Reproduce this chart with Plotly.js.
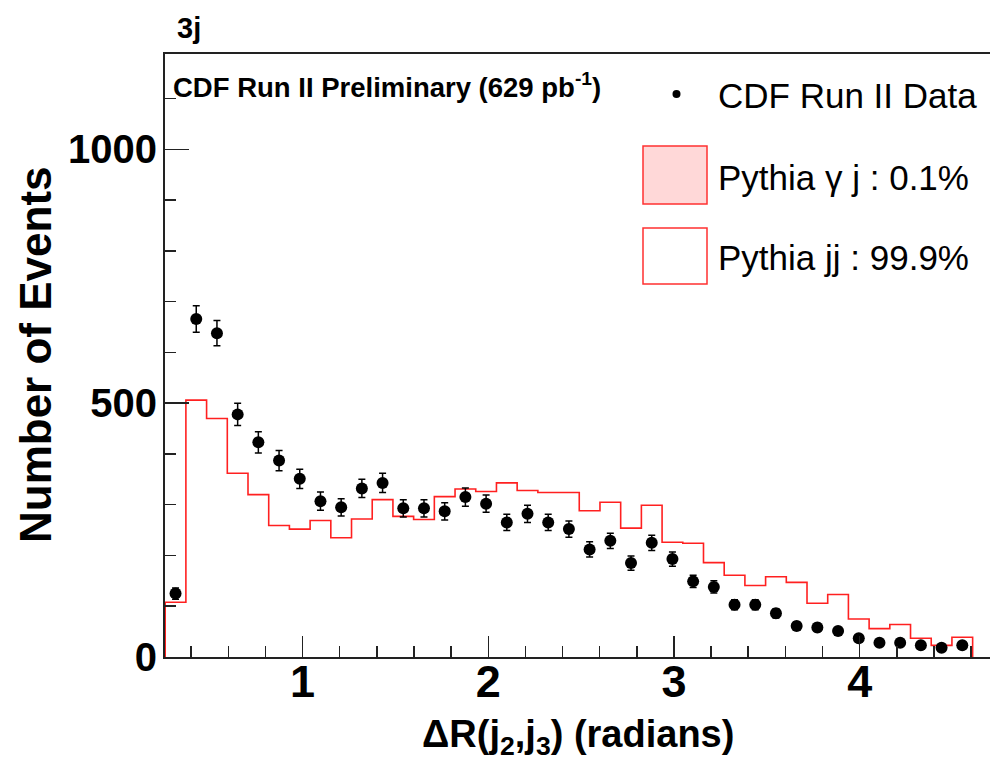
<!DOCTYPE html>
<html>
<head>
<meta charset="utf-8">
<script src="https://cdn.plot.ly/plotly-3.0.1.min.js"></script>
<style>html,body{margin:0;padding:0;background:#fff;}#chart{width:990px;height:760px;}</style>
</head>
<body>
<div id="chart"></div>
<script>
// ---- histogram binning (39 bins) ----
const binLo = 0.26;
const binWidth = 0.1115;

// CDF Run II data (counts per bin) and error bars
const dataCounts = [125, 666, 638, 478, 423, 387, 351, 307, 295, 332,
                    343, 293, 293, 287, 315, 302, 265, 282, 265, 252,
                    212, 229, 185, 225, 193, 149, 138, 103, 103, 86,
                    61, 58, 51, 37, 28, 28, 23, 18, 23];
const dataErrors = [11, 26, 25, 22, 21, 20, 19, 18, 17, 18,
                    19, 17, 17, 17, 18, 17, 16, 17, 16, 16,
                    15, 15, 14, 15, 14, 12, 12, 10, 10, 9,
                    8, 8, 7, 6, 5, 5, 5, 4, 5];

// Pythia jj (99.9%)
const pythiaJJ = [108, 506, 470, 362, 320, 259, 252, 269, 235, 272,
                  310, 277, 271, 316, 331, 326, 343, 328, 324, 324,
                  288, 305, 254, 299, 226, 224, 186, 161, 141, 158,
                  147, 106, 123, 75, 56, 64, 37, 23, 39];

// Pythia gamma-j (0.1%) - essentially invisible
const pythiaGJ = [0, 1, 0, 0, 0, 0, 0, 0, 0, 0,
                  0, 0, 0, 0, 0, 0, 0, 1, 0, 0,
                  0, 0, 0, 0, 1, 0, 0, 0, 0, 0,
                  0, 0, 0, 0, 0, 0, 0, 0, 0];

const yTickVals = [0, 500, 1000];
const xTickVals = [1, 2, 3, 4];

const legendLabels = ['CDF Run II Data', 'Pythia \u03b3 j : 0.1%', 'Pythia jj : 99.9%'];
const panelLabel = '3j';
const expLabel = 'CDF Run II Preliminary (629 pb<sup>-1</sup>)';
const xTitle = '\u0394R(j<sub>2</sub>,j<sub>3</sub>) (radians)';
const yTitle = 'Number of Events';

// ---- helpers ----
const centers = dataCounts.map((_, i) => binLo + (i + 0.5) * binWidth);
function stepLine(vals) {
  const xs = [binLo], ys = [0];
  vals.forEach((v, i) => {
    xs.push(binLo + i * binWidth, binLo + (i + 1) * binWidth);
    ys.push(v, v);
  });
  xs.push(binLo + vals.length * binWidth);
  ys.push(0);
  return {xs, ys};
}

const W = 990, H = 760;
const M = {l: 165, r: 0, t: 54, b: 103};
const PW = W - M.l - M.r, PH = H - M.t - M.b;
const px = X => (X - M.l) / PW;
const py = Y => (H - M.b - Y) / PH;

const FONT = 'Liberation Sans, Arial, Helvetica, sans-serif';

const jjStep = stepLine(pythiaJJ);
const gjStep = stepLine(pythiaGJ);

const traces = [
  {
    x: gjStep.xs, y: gjStep.ys, type: 'scatter', mode: 'lines',
    fill: 'tozeroy', fillcolor: '#ffd6d6',
    line: {width: 0, color: '#ffd6d6'}, hoverinfo: 'skip', showlegend: false
  },
  {
    x: jjStep.xs, y: jjStep.ys, type: 'scatter', mode: 'lines',
    line: {color: '#ff2020', width: 1.6}, showlegend: false
  },
  {
    x: centers, y: dataCounts, type: 'scatter', mode: 'markers',
    marker: {color: '#000', size: 12, symbol: 'circle'},
    error_y: {type: 'data', array: dataErrors, visible: true, color: '#000', thickness: 1.5, width: 3.5},
    showlegend: false
  }
];

const shapes = [
  // legend boxes
  {type: 'rect', xref: 'paper', yref: 'paper', x0: px(643), x1: px(707), y0: py(204), y1: py(146),
   line: {color: '#ff3030', width: 1.5}, fillcolor: '#ffd8d8'},
  {type: 'rect', xref: 'paper', yref: 'paper', x0: px(643), x1: px(707), y0: py(284), y1: py(228),
   line: {color: '#ff3030', width: 1.5}, fillcolor: '#ffffff'},
  // legend dot
  {type: 'circle', xref: 'paper', yref: 'paper', x0: px(672.5), x1: px(680.5), y0: py(98), y1: py(90),
   line: {color: '#000', width: 0}, fillcolor: '#000'}
];

const annotations = [
  {text: panelLabel, xref: 'paper', yref: 'paper', x: px(175), y: py(28), xanchor: 'left', yanchor: 'middle',
   showarrow: false, font: {family: FONT, size: 29, weight: 'bold', color: '#000'}},
  {text: expLabel, xref: 'paper', yref: 'paper', x: px(171), y: py(85), xanchor: 'left', yanchor: 'middle',
   showarrow: false, font: {family: FONT, size: 27.5, weight: 'bold', color: '#000'}},
  {text: legendLabels[0], xref: 'paper', yref: 'paper', x: px(716), y: py(95), xanchor: 'left', yanchor: 'middle',
   showarrow: false, font: {family: FONT, size: 35, color: '#000'}},
  {text: legendLabels[1], xref: 'paper', yref: 'paper', x: px(716), y: py(178), xanchor: 'left', yanchor: 'middle',
   showarrow: false, font: {family: FONT, size: 35, color: '#000'}},
  {text: legendLabels[2], xref: 'paper', yref: 'paper', x: px(716), y: py(257), xanchor: 'left', yanchor: 'middle',
   showarrow: false, font: {family: FONT, size: 35, color: '#000'}},
  {text: xTitle, xref: 'paper', yref: 'paper', x: px(578), y: py(737), xanchor: 'center', yanchor: 'middle',
   showarrow: false, font: {family: FONT, size: 38, weight: 'bold', color: '#000'}},
  {text: yTitle, xref: 'paper', yref: 'paper', x: px(36), y: py(355), xanchor: 'center', yanchor: 'middle',
   textangle: -90, showarrow: false, font: {family: FONT, size: 44, weight: 'bold', color: '#000'}}
];

const layout = {
  width: W, height: H,
  margin: M,
  paper_bgcolor: '#fff', plot_bgcolor: '#fff',
  showlegend: false,
  xaxis: {
    range: [0.259, 4.702], showgrid: false, zeroline: false,
    showline: true, linecolor: '#222', linewidth: 2, mirror: true,
    tickmode: 'array', tickvals: xTickVals, ticktext: xTickVals.map(String),
    ticks: 'inside', ticklen: 21, tickwidth: 1.5, tickcolor: '#222',
    minor: {dtick: 0.2, ticks: 'inside', ticklen: 11, tickwidth: 1.5, tickcolor: '#222', showgrid: false},
    tickfont: {family: FONT, size: 45, weight: 'bold', color: '#000'},
    ticklabelstandoff: -16
  },
  yaxis: {
    range: [0, 1188], showgrid: false, zeroline: false,
    showline: true, linecolor: '#222', linewidth: 2, mirror: false,
    tickmode: 'array', tickvals: yTickVals, ticktext: yTickVals.map(String),
    ticks: 'inside', ticklen: 24, tickwidth: 1.5, tickcolor: '#222',
    minor: {dtick: 100, ticks: 'inside', ticklen: 11, tickwidth: 1.5, tickcolor: '#222', showgrid: false},
    tickfont: {family: FONT, size: 40, weight: 'bold', color: '#000'},
    ticklabelstandoff: -2
  },
  shapes: shapes,
  annotations: annotations
};

Plotly.newPlot('chart', traces, layout, {staticPlot: true, displayModeBar: false});
</script>
</body>
</html>
